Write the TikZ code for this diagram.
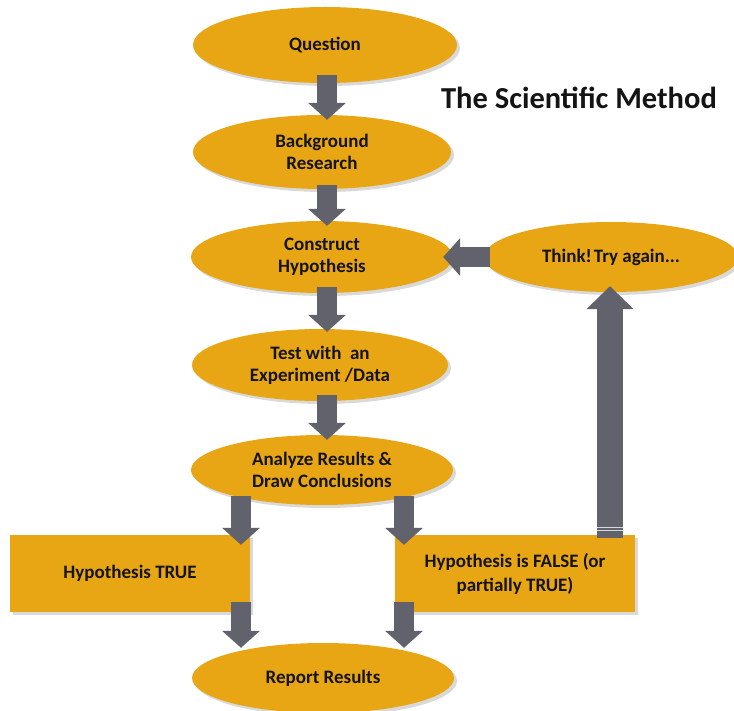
\documentclass[tikz,border=0pt]{standalone}
\usepackage{fontspec}
\setmainfont{Carlito}
\usetikzlibrary{shapes.geometric,arrows.meta,shadows}
\definecolor{gold}{RGB}{232,166,20}
\definecolor{slate}{RGB}{98,98,108}
\definecolor{ink}{RGB}{20,20,20}
\begin{document}
\begin{tikzpicture}[x=1pt,y=-1pt,
  stage/.style={ellipse, fill=gold, inner sep=0pt, text=ink, align=center,
    font=\bfseries\fontsize{19}{22}\selectfont,
    drop shadow={shadow xshift=3pt, shadow yshift=-3pt, opacity=0.3}},
  outcome/.style={rectangle, fill=gold, inner sep=0pt, text=ink, align=center,
    minimum width=240pt, minimum height=77pt,
    font=\bfseries\fontsize{19}{24}\selectfont,
    drop shadow={shadow xshift=3pt, shadow yshift=-3pt, opacity=0.3}},
  flow/.style={draw=slate, line width=20pt, -{Triangle[length=17pt,width=37pt]}},
  bigflow/.style={draw=slate, line width=26pt, -{Triangle[length=23pt,width=46pt]}}
]
\useasboundingbox (0,0) rectangle (734,711);

% process stages
\node[stage, minimum width=264pt, minimum height=76pt] (q)   at (325,45)  {Question};
\node[stage, minimum width=258pt, minimum height=74pt] (bg)  at (322,152) {Background\\Research};
\node[stage, minimum width=262pt, minimum height=72pt] (con) at (322,257) {Construct\\Hypothesis};
\node[stage, minimum width=254pt, minimum height=70pt] (try) at (611,257) {Think!\hspace{2pt}Try again...};
\node[stage, minimum width=256pt, minimum height=72pt] (tst) at (320,365) {Test with\ \ an\\Experiment /Data};
\node[stage, minimum width=262pt, minimum height=70pt] (ana) at (322,470) {Analyze Results \&\\Draw Conclusions};
\node[stage, minimum width=262pt, minimum height=70pt] (rep) at (323,678) {Report Results};

% outcomes
\node[outcome] (tru) at (130,573.5) {Hypothesis TRUE};
\node[outcome] (fal) at (515,573.5) {Hypothesis is FALSE (or\\partially TRUE)};

% title
\node[font=\bfseries\fontsize{30.5}{36}\selectfont, text=ink] (title) at (579,98) {The Scientific Method};

% arrow columns
\coordinate (colx) at (327,0);
\coordinate (ltx)  at (241,0);
\coordinate (rtx)  at (404,0);
\coordinate (upx)  at (610,0);

% main sequence
\draw[flow, shorten <=-8pt, shorten >=-5pt] (q.south -| colx) -- (bg.north -| colx);
\draw[flow, shorten <=-4pt, shorten >=-5pt] (bg.south -| colx) -- (con.north -| colx);
\draw[flow, shorten <=-6pt, shorten >=-3pt] (con.south -| colx) -- (tst.north -| colx);
\draw[flow, shorten <=-6pt, shorten >=-5pt] (tst.south -| colx) -- (ana.north -| colx);

% branches
\draw[flow, shorten <=-9pt, shorten >=-10pt] (ana.south -| ltx) -- (tru.north -| ltx);
\draw[flow, shorten <=-9pt, shorten >=-10pt] (ana.south -| rtx) -- (fal.north -| rtx);
\draw[flow, shorten <=-10pt, shorten >=-5pt] (tru.south -| ltx) -- (rep.north -| ltx);
\draw[flow, shorten <=-10pt, shorten >=-5pt] (fal.south -| rtx) -- (rep.north -| rtx);

% loop back
\draw[bigflow, shorten <=-3pt, shorten >=-6pt] (fal.north -| upx) -- (try.south -| upx);
\draw[flow, shorten <=-6pt, shorten >=-10pt] (try.west) -- (con.east);

% notches at the foot of the return arrow
\draw[white!75!slate, line width=1pt] ([xshift=-13pt, yshift=7pt]fal.north -| upx) -- ++(26,0);
\draw[white!75!slate, line width=1pt] ([xshift=-13pt, yshift=4pt]fal.north -| upx) -- ++(26,0);
\end{tikzpicture}
\end{document}
